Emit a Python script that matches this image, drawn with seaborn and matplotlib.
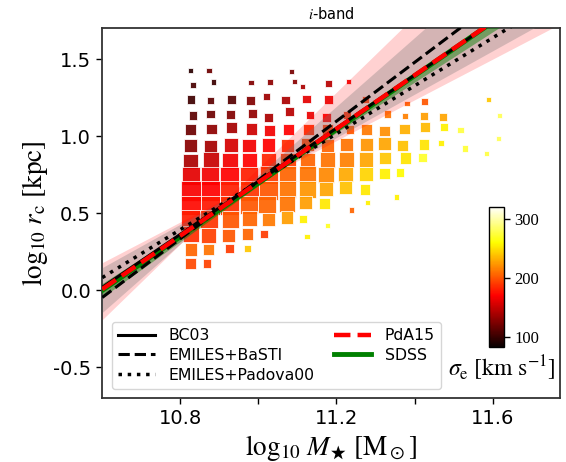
import numpy as np
import pandas as pd
import matplotlib
import matplotlib.pyplot as plt
import seaborn as sns

# binned galaxies: mean log mass, mean log rc, number of galaxies, mean sigma_e
log_mass = [
    10.826, 10.874, 11.085, 10.832, 10.885, 10.981, 11.030, 11.092, 11.112, 11.180, 11.231,
    10.827, 10.878, 10.931, 10.980, 11.020, 11.069, 11.124, 11.180, 11.425, 11.380, 11.589,
    10.832, 10.878, 10.928, 10.984, 11.026, 11.079, 11.132, 11.175, 11.331, 11.376, 11.424,
    11.473, 11.618, 11.274, 11.226,
    10.827, 10.880, 10.931, 10.982, 11.028, 11.078, 11.128, 11.177, 11.235, 11.276, 11.323,
    11.374, 11.427, 11.475, 11.518, 11.616,
    10.826, 10.878, 10.930, 10.976, 11.026, 11.075, 11.126, 11.177, 11.226, 11.277, 11.323,
    11.369, 11.425, 11.467, 11.529, 11.584,
    10.826, 10.878, 10.928, 10.977, 11.026, 11.075, 11.126, 11.177, 11.225, 11.276, 11.324,
    11.377, 11.421,
    10.827, 10.877, 10.926, 10.977, 11.026, 11.075, 11.126, 11.173, 11.222, 11.276, 11.324,
    11.363,
    10.827, 10.877, 10.926, 10.977, 11.026, 11.075, 11.126, 11.173, 11.223, 11.274, 11.354,
    10.827, 10.877, 10.926, 10.977, 11.022, 11.074, 11.121, 11.169, 11.239, 11.280,
    10.827, 10.874, 10.928, 10.976, 11.026, 11.073, 11.115, 11.177,
    10.827, 10.872, 10.924, 10.972, 11.015, 11.124,
    10.827, 10.871, 10.926, 10.972,
    10.826, 10.868,
]
log_rc = [
    1.427, 1.427, 1.420, 1.332, 1.353, 1.349, 1.351, 1.353, 1.325, 1.340, 1.356,
    1.237, 1.233, 1.237, 1.233, 1.256, 1.235, 1.241, 1.237, 1.228, 1.211, 1.237,
    1.136, 1.144, 1.140, 1.146, 1.123, 1.159, 1.138, 1.123, 1.144, 1.131, 1.131,
    1.125, 1.133, 1.237, 1.140,
    1.043, 1.047, 1.056, 1.047, 1.039, 1.045, 1.043, 1.043, 1.045, 1.043, 1.036,
    1.049, 1.060, 1.060, 1.039, 0.985,
    0.939, 0.935, 0.944, 0.939, 0.944, 0.939, 0.946, 0.939, 0.946, 0.946, 0.952,
    0.942, 0.946, 0.957, 0.920, 0.888,
    0.838, 0.845, 0.840, 0.838, 0.840, 0.838, 0.840, 0.847, 0.849, 0.849, 0.860,
    0.860, 0.862,
    0.745, 0.745, 0.745, 0.745, 0.750, 0.750, 0.750, 0.750, 0.754, 0.754, 0.758,
    0.763,
    0.644, 0.644, 0.644, 0.644, 0.650, 0.655, 0.655, 0.659, 0.666, 0.655, 0.607,
    0.551, 0.551, 0.551, 0.551, 0.558, 0.560, 0.569, 0.562, 0.521, 0.571,
    0.461, 0.461, 0.461, 0.465, 0.461, 0.472, 0.465, 0.422,
    0.364, 0.357, 0.357, 0.366, 0.364, 0.349,
    0.267, 0.267, 0.271, 0.271,
    0.174, 0.174,
]
n_gal = [
    9, 12, 12, 16, 12, 12, 16, 9, 9, 20, 9,
    30, 20, 30, 30, 20, 30, 30, 30, 20, 12, 9,
    30, 30, 36, 30, 30, 36, 30, 30, 20, 16, 30,
    25, 12, 20, 25,
    49, 42, 49, 49, 49, 49, 49, 42, 30, 49, 42,
    42, 42, 30, 16, 9,
    64, 64, 72, 72, 72, 72, 72, 72, 72, 72, 64,
    49, 42, 16, 16, 12,
    90, 100, 100, 100, 100, 100, 100, 100, 90, 81, 64,
    56, 36,
    132, 132, 132, 132, 132, 121, 121, 110, 90, 72, 49,
    30,
    156, 156, 156, 156, 144, 121, 110, 81, 72, 42, 12,
    156, 156, 144, 132, 121, 100, 64, 49, 12, 12,
    144, 132, 110, 90, 72, 64, 25, 12,
    100, 90, 72, 56, 25, 12,
    64, 49, 30, 20,
    42, 30,
]
sigma_e = [
    95, 118, 122, 105, 100, 125, 130, 128, 140, 145, 165,
    102, 112, 110, 125, 135, 140, 160, 163, 200, 205, 240,
    112, 118, 125, 132, 140, 145, 163, 170, 210, 215, 225,
    228, 280, 190, 185,
    118, 130, 138, 152, 165, 170, 185, 190, 205, 212, 220,
    232, 235, 255, 275, 280,
    128, 138, 155, 165, 170, 185, 195, 205, 210, 222, 228,
    238, 250, 255, 272, 275,
    140, 150, 165, 170, 182, 192, 205, 210, 215, 228, 240,
    250, 270,
    160, 165, 170, 180, 190, 205, 210, 218, 230, 245, 255,
    258,
    168, 170, 180, 188, 200, 210, 222, 228, 238, 252, 255,
    172, 178, 185, 200, 205, 210, 225, 252, 205, 255,
    180, 188, 200, 205, 212, 225, 255, 268,
    185, 192, 200, 205, 190, 255,
    205, 210, 190, 240,
    195, 193,
]

# fitted relations: value at log M = 10.6 and slope
fit_names = ["BC03", "EMILES+BaSTI", "EMILES+Padova00", "PdA15", "SDSS"]
fit_at_106 = [0.020, -0.046, 0.083, 0.008, 0.000]
fit_slope = [1.72, 1.906, 1.555, 1.734, 1.74]

# uncertainty bands: (value at 10.6, slope) of the two edge lines
band_pink = [(0.18, 1.32), (-0.19, 2.46)]
band_gray = [(0.148, 1.406), (-0.143, 2.229)]
band_green = [(0.045, 1.632), (-0.045, 1.812)]

df = pd.DataFrame({"logM": log_mass, "logrc": log_rc, "n": n_gal, "sigma": sigma_e})

plt.rcParams["mathtext.fontset"] = "stix"
plt.rcParams["axes.unicode_minus"] = False
plt.rcParams["font.family"] = "DejaVu Sans"

fig = plt.figure(figsize=(5.66, 4.62), dpi=100)
ax = fig.add_axes([0.1807, 0.1379, 0.8083, 0.8008])

vmin, vmax = 83, 320
sns.scatterplot(
    data=df, x="logM", y="logrc", hue="sigma", size="n",
    palette="hot", hue_norm=(vmin, vmax),
    sizes=(12, 200), size_norm=(9, 156),
    marker="s", linewidth=0.6, edgecolor="white", alpha=0.92,
    legend=False, ax=ax, zorder=1
)

xlim = (10.6, 11.772)
ylim = (-0.7, 1.7)
xf = np.linspace(xlim[0], xlim[1], 200)
dx = xf - 10.6


def band(edges, **kw):
    l1 = edges[0][0] + edges[0][1] * dx
    l2 = edges[1][0] + edges[1][1] * dx
    ax.fill_between(xf, np.minimum(l1, l2), np.maximum(l1, l2), lw=0, **kw)


band(band_pink, color="red", alpha=0.18, zorder=2)
band(band_gray, color="0.45", alpha=0.3, zorder=3)
band(band_green, color="green", alpha=0.45, zorder=4)

styles = [
    dict(color="black", ls="-", lw=2.2),
    dict(color="black", ls="--", lw=2.2),
    dict(color="black", ls=":", lw=2.5),
    dict(color="red", ls="--", lw=3.2),
    dict(color="green", ls="-", lw=3.5),
]
order = [4, 0, 1, 2, 3]
lines = {}
for i in order:
    yv = fit_at_106[i] + fit_slope[i] * dx
    (ln,) = ax.plot(xf, yv, label=fit_names[i], zorder=5 + order.index(i), **styles[i])
    lines[i] = ln

ax.set_xlim(*xlim)
ax.set_ylim(*ylim)
ax.set_xticks([10.8, 11.0, 11.2, 11.4, 11.6])
ax.set_xticklabels(["10.8", "", "11.2", "", "11.6"])
ax.set_yticks([-0.5, 0.0, 0.5, 1.0, 1.5])
ax.set_yticklabels(["-0.5", "0.0", "0.5", "1.0", "1.5"])
ax.tick_params(labelsize=14, length=4.5, width=1, direction="out")
for sp in ax.spines.values():
    sp.set_color("0.2")
    sp.set_linewidth(1.3)

ax.set_xlabel(r"$\log_{10}\,M_\bigstar\ [\mathrm{M}_\odot]$", fontsize=19.5, labelpad=3)
ax.set_ylabel(r"$\log_{10}\,r_{\rm c}\ [\rm kpc]$", fontsize=19.5, labelpad=2)
ax.set_title(r"$i$-band", fontsize=10.5, pad=7)

leg = ax.legend(
    [lines[i] for i in range(5)], fit_names, ncol=2, loc="lower left",
    fontsize=11.3, handlelength=2.35, handletextpad=0.9, columnspacing=1.2,
    labelspacing=0.3, borderaxespad=0.6, framealpha=0.8
)

cax = fig.add_axes([0.864, 0.2496, 0.0265, 0.303])
sm = matplotlib.cm.ScalarMappable(norm=matplotlib.colors.Normalize(vmin, vmax), cmap="hot")
cb = fig.colorbar(sm, cax=cax, ticks=[100, 200, 300])
cb.outline.set_linewidth(1.0)
cax.tick_params(labelsize=12, length=4, width=1)
for t in cax.get_yticklabels():
    t.set_family("Liberation Serif")
fig.text(0.887, 0.203, r"$\sigma_{\rm e}\ [{\rm km\ s^{-1}}]$", fontsize=17,
         ha="center", va="center")

fig.savefig("out.png", dpi=100)
